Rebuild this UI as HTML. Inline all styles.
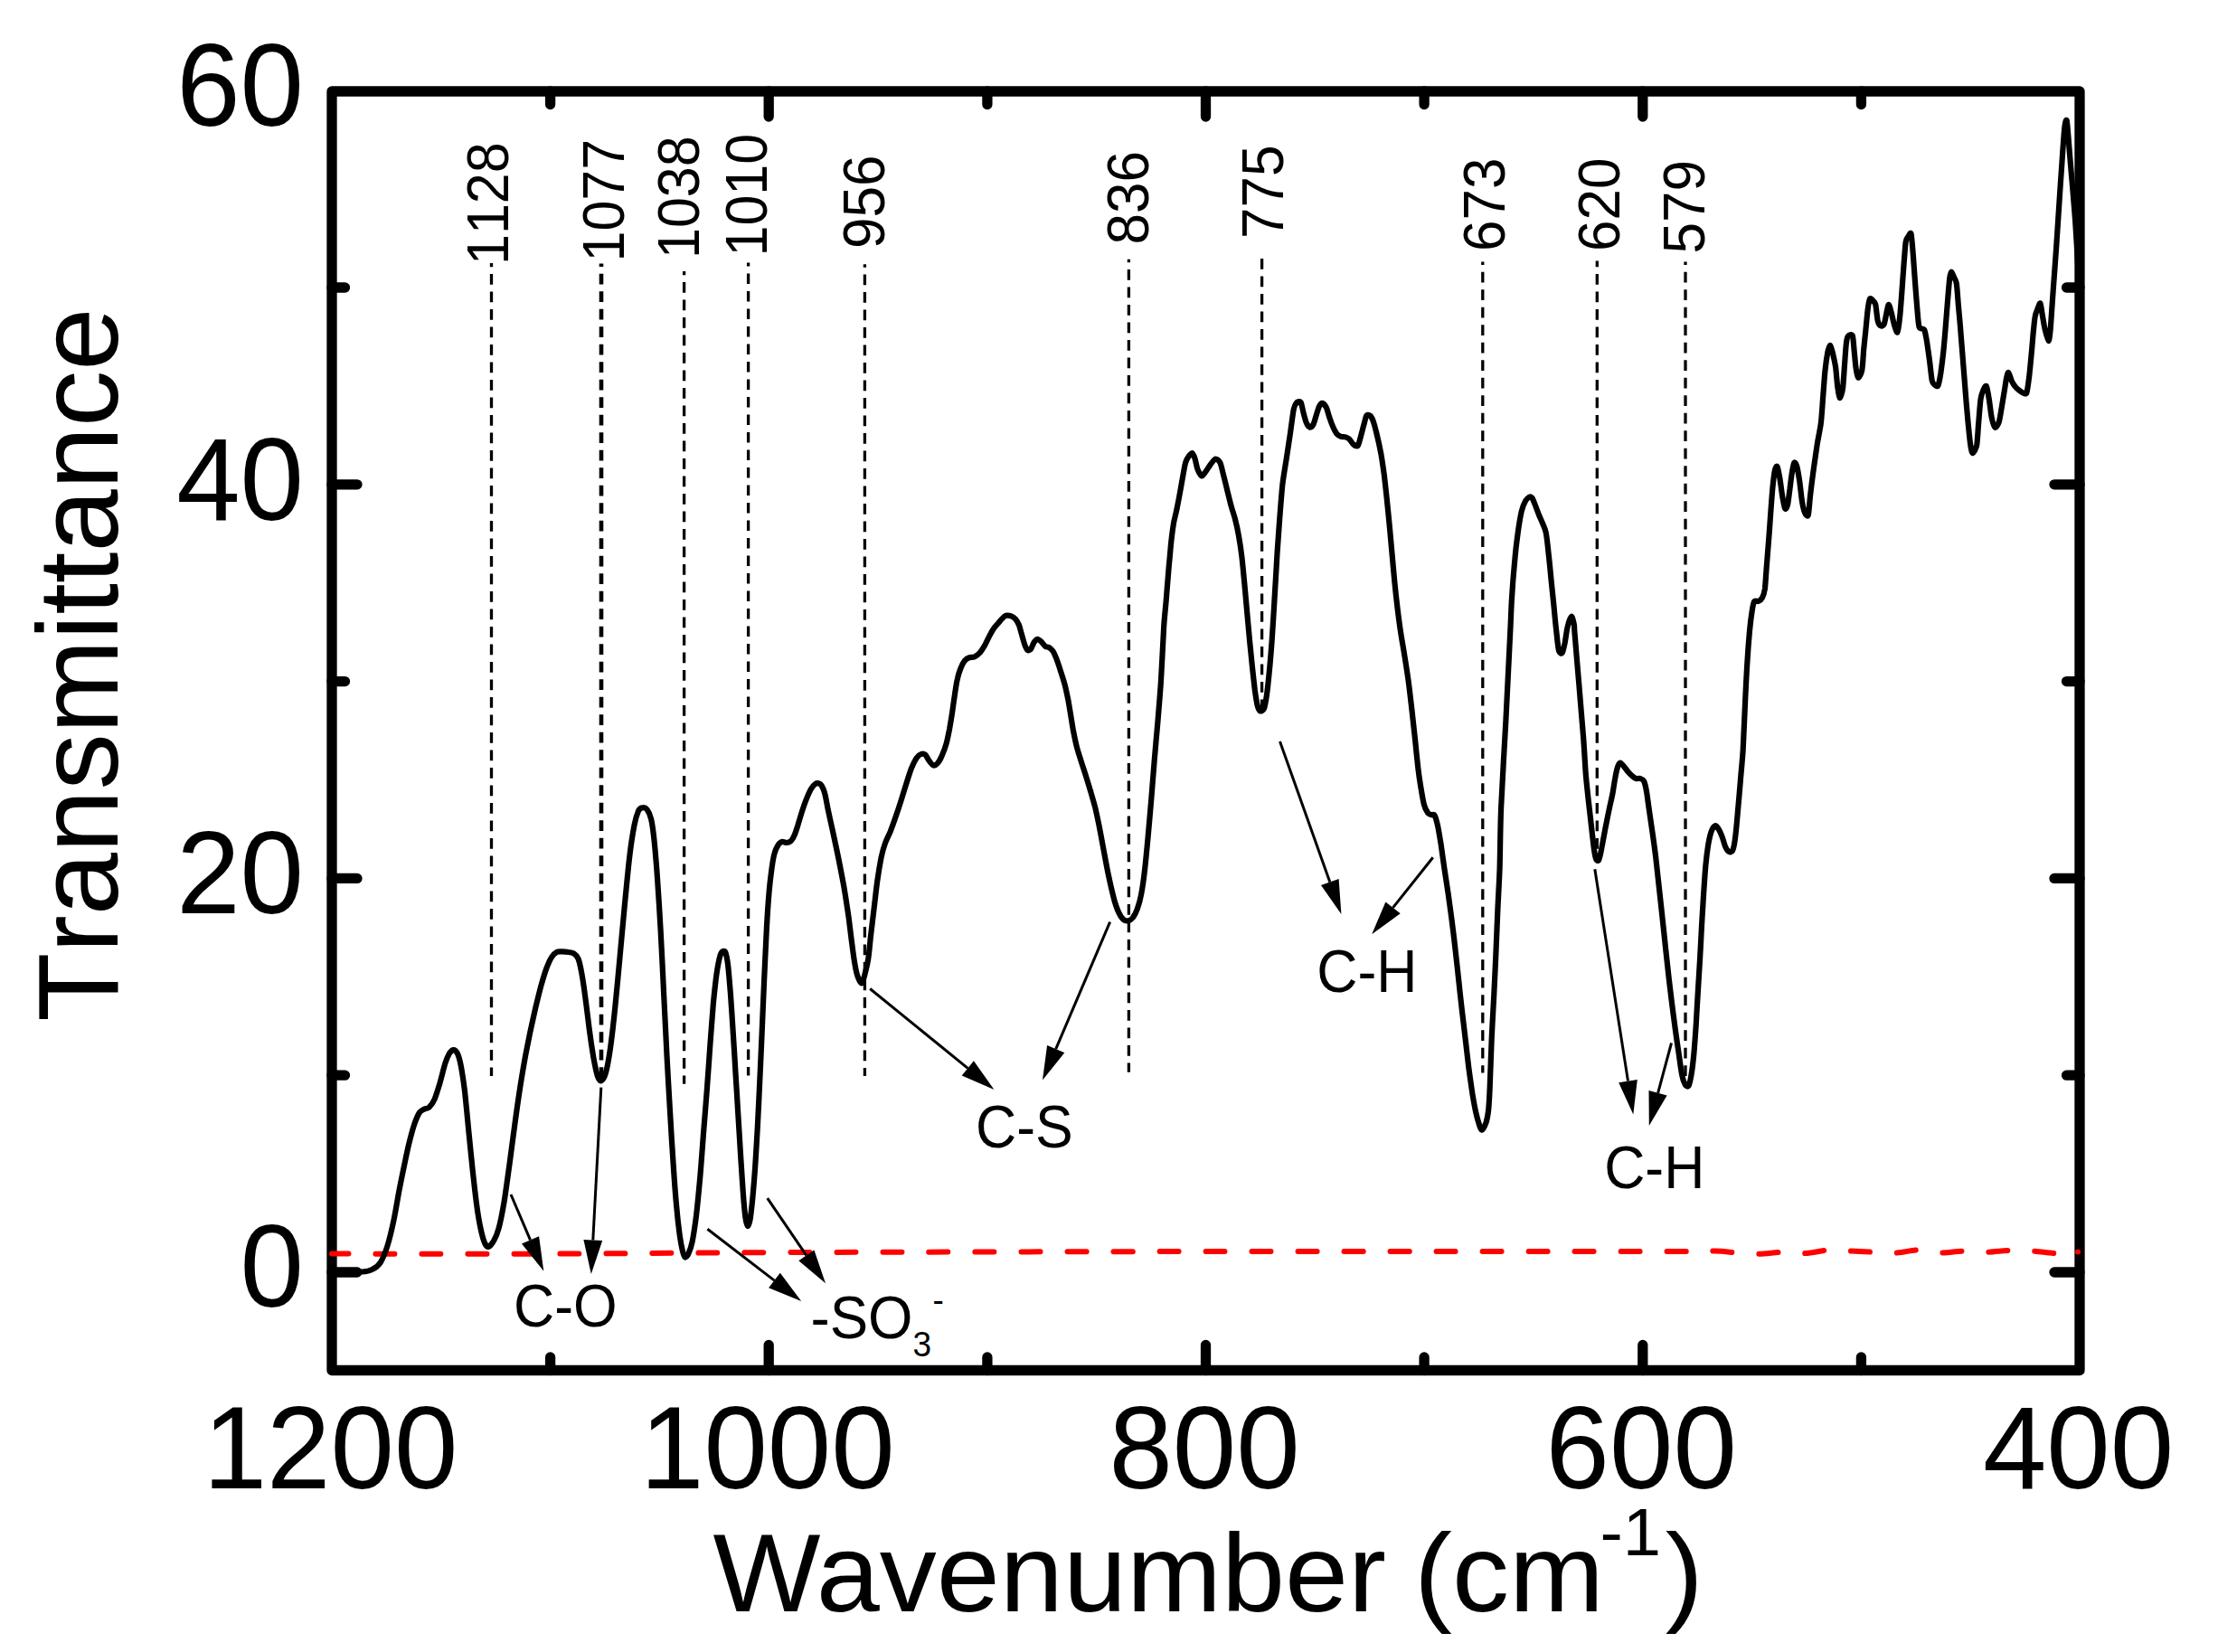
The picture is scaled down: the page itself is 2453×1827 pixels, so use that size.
<!DOCTYPE html>
<html><head><meta charset="utf-8"><title>FTIR spectrum</title>
<style>html,body{margin:0;padding:0;background:#fff}svg{display:block}text{font-family:"Liberation Sans",sans-serif;fill:#000;font-kerning:none}</style>
</head><body>
<svg width="2453" height="1827" viewBox="0 0 2453 1827">
<rect width="2453" height="1827" fill="#fff"/>
<rect x="367" y="101" width="1933" height="1414.5" fill="none" stroke="#000" stroke-width="11.3" stroke-linejoin="round"/>
<path d="M608.6 1515.5v-14.5M608.6 101.0v14.5M850.2 1515.5v-28.0M850.2 101.0v28.0M1091.9 1515.5v-14.5M1091.9 101.0v14.5M1333.5 1515.5v-28.0M1333.5 101.0v28.0M1575.1 1515.5v-14.5M1575.1 101.0v14.5M1816.8 1515.5v-28.0M1816.8 101.0v28.0M2058.4 1515.5v-14.5M2058.4 101.0v14.5M367.0 1407.0h28.0M2300.0 1407.0h-28.0M367.0 1189.2h14.5M2300.0 1189.2h-14.5M367.0 971.4h28.0M2300.0 971.4h-28.0M367.0 753.6h14.5M2300.0 753.6h-14.5M367.0 535.8h28.0M2300.0 535.8h-28.0M367.0 318.0h14.5M2300.0 318.0h-14.5" stroke="#000" stroke-width="11.3" stroke-linecap="round" fill="none"/>
<path d="M543.5 290.9V1189.9" stroke="#000" stroke-width="3.3" stroke-dasharray="11.7 7.8" stroke-dashoffset="7.4" fill="none"/>
<path d="M665.0 291.5V1197.0" stroke="#000" stroke-width="4.6" stroke-dasharray="11.7 7.8" stroke-dashoffset="8.2" fill="none"/>
<path d="M756.6 300.0V1198.8" stroke="#000" stroke-width="3.3" stroke-dasharray="11.7 7.8" stroke-dashoffset="7.4" fill="none"/>
<path d="M827.6 290.6V1189.5" stroke="#000" stroke-width="3.3" stroke-dasharray="11.7 7.8" stroke-dashoffset="7.7" fill="none"/>
<path d="M956.4 292.2V1189.9" stroke="#000" stroke-width="3.3" stroke-dasharray="11.7 7.8" stroke-dashoffset="8.2" fill="none"/>
<path d="M1248.4 286.8V1185.8" stroke="#000" stroke-width="3.3" stroke-dasharray="11.7 7.8" stroke-dashoffset="8.2" fill="none"/>
<path d="M1395.6 286.0V787.0" stroke="#000" stroke-width="3.3" stroke-dasharray="11.7 7.8" stroke-dashoffset="0.0" fill="none"/>
<path d="M1639.8 289.5V1186.4" stroke="#000" stroke-width="3.3" stroke-dasharray="11.7 7.8" stroke-dashoffset="8.2" fill="none"/>
<path d="M1766.3 288.5V947.0" stroke="#000" stroke-width="3.3" stroke-dasharray="11.7 7.8" stroke-dashoffset="5.0" fill="none"/>
<path d="M1864.0 289.5V1190.0" stroke="#000" stroke-width="3.3" stroke-dasharray="11.7 7.8" stroke-dashoffset="8.2" fill="none"/>
<path d="M367.0 1386.6C405.8 1386.6 511.2 1386.9 600.0 1386.6C688.8 1386.3 776.7 1385.4 900.0 1385.0C1023.3 1384.6 1206.7 1384.2 1340.0 1384.0C1473.3 1383.8 1615.0 1384.0 1700.0 1384.0C1785.0 1384.0 1817.3 1384.1 1850.0 1384.0C1882.7 1383.9 1884.1 1383.3 1896.0 1383.6C1907.9 1383.8 1913.3 1385.0 1921.6 1385.5C1929.8 1386.0 1937.0 1386.9 1945.5 1386.8C1954.0 1386.7 1964.1 1384.9 1972.6 1384.8C1981.1 1384.7 1988.0 1386.5 1996.5 1386.1C2005.0 1385.7 2015.3 1382.7 2023.7 1382.3C2032.1 1381.9 2038.8 1383.2 2047.0 1383.6C2055.2 1384.0 2064.5 1384.5 2073.0 1384.8C2081.5 1385.1 2089.8 1385.9 2098.0 1385.5C2106.2 1385.1 2114.4 1382.3 2122.5 1382.3C2130.6 1382.3 2138.2 1385.3 2146.5 1385.5C2154.8 1385.7 2163.5 1383.7 2172.0 1383.6C2180.5 1383.5 2189.0 1384.9 2197.5 1384.8C2206.0 1384.7 2214.5 1383.1 2223.0 1382.9C2231.5 1382.7 2240.0 1383.1 2248.5 1383.6C2257.0 1384.1 2265.8 1385.9 2274.0 1386.1C2282.2 1386.2 2294.0 1384.8 2298.0 1384.5" stroke="#f00" stroke-width="6" stroke-linecap="round" stroke-dasharray="21 30" stroke-dashoffset="2.5" fill="none"/>
<circle cx="2298" cy="1384.5" r="3" fill="#f00"/>
<path d="M365.8 1406.5C370.5 1406.5 394.5 1406.9 400.7 1406.5C406.9 1406.2 409.6 1405.1 412.3 1403.6C415.0 1402.2 418.9 1399.2 421.0 1395.8C423.1 1392.4 426.3 1384.6 428.3 1378.4C430.2 1372.2 433.8 1357.4 435.5 1349.3C437.3 1341.2 439.8 1325.5 441.3 1317.4C442.9 1309.2 445.6 1295.7 447.2 1288.3C448.7 1280.9 451.4 1268.3 453.0 1262.1C454.5 1256.0 457.3 1246.1 458.8 1241.8C460.3 1237.6 462.7 1232.2 464.0 1230.2C465.4 1228.2 467.5 1227.5 468.9 1226.7C470.4 1225.9 473.2 1225.9 474.8 1224.4C476.3 1222.9 479.0 1219.2 480.6 1215.7C482.1 1212.2 484.8 1203.5 486.4 1198.2C487.9 1193.0 490.8 1180.9 492.2 1176.4C493.6 1172.0 495.9 1166.9 497.1 1164.8C498.4 1162.8 500.3 1161.0 501.5 1161.0C502.6 1161.0 504.8 1162.6 505.8 1164.8C506.9 1167.1 508.5 1172.3 509.6 1177.9C510.7 1183.5 512.8 1197.3 514.0 1206.9C515.1 1216.6 517.2 1238.9 518.3 1250.5C519.5 1262.1 521.5 1283.3 522.7 1294.1C523.9 1305.0 525.9 1323.4 527.1 1331.9C528.2 1340.4 530.2 1352.4 531.4 1358.0C532.6 1363.6 534.6 1371.2 535.8 1374.0C536.9 1376.8 538.8 1379.1 540.1 1378.9C541.5 1378.7 544.4 1375.3 545.9 1372.6C547.5 1369.8 550.2 1363.8 551.7 1358.0C553.3 1352.2 556.0 1338.3 557.6 1329.0C559.1 1319.7 561.8 1299.5 563.4 1288.3C564.9 1277.1 567.6 1256.0 569.2 1244.7C570.7 1233.5 573.4 1214.1 575.0 1204.0C576.5 1194.0 579.3 1177.7 580.8 1169.2C582.4 1160.7 585.1 1147.5 586.6 1140.1C588.2 1132.8 590.9 1120.6 592.4 1114.0C594.0 1107.4 596.7 1096.4 598.2 1090.7C599.8 1085.1 602.5 1076.1 604.0 1071.9C605.6 1067.6 608.3 1061.3 609.9 1058.8C611.4 1056.3 614.1 1053.8 615.7 1053.0C617.2 1052.1 619.7 1052.4 621.5 1052.4C623.2 1052.4 627.0 1052.7 628.7 1053.0C630.5 1053.2 633.1 1053.5 634.5 1054.4C636.0 1055.4 638.3 1057.3 639.5 1060.2C640.7 1063.1 642.2 1070.2 643.3 1076.2C644.4 1082.2 646.5 1096.7 647.6 1105.3C648.8 1113.8 650.8 1131.6 652.0 1140.1C653.1 1148.7 655.2 1162.6 656.3 1169.2C657.5 1175.8 659.6 1186.0 660.7 1189.5C661.8 1193.0 663.4 1195.8 664.6 1195.4C665.8 1195.1 668.5 1191.6 669.9 1186.7C671.3 1181.7 673.7 1168.4 675.1 1158.6C676.5 1148.7 679.0 1126.5 680.4 1112.9C681.8 1099.3 684.3 1071.7 685.7 1056.7C687.1 1041.7 689.5 1015.0 690.9 1000.5C692.3 986.0 694.8 959.5 696.2 947.8C697.6 936.1 700.2 919.5 701.5 912.7C702.8 905.9 704.9 899.5 706.0 896.9C707.2 894.3 709.0 893.6 710.2 893.4C711.5 893.1 714.2 893.5 715.5 895.1C716.8 896.8 719.0 901.0 720.1 905.7C721.2 910.3 722.7 921.4 723.6 930.2C724.5 939.1 726.2 959.3 727.1 972.4C728.0 985.5 729.7 1011.7 730.6 1028.6C731.6 1045.5 733.2 1080.1 734.1 1098.8C735.1 1117.6 736.7 1151.3 737.6 1169.1C738.6 1186.9 740.2 1216.4 741.2 1232.3C742.1 1248.2 743.7 1274.9 744.7 1288.5C745.6 1302.1 747.2 1323.9 748.2 1334.2C749.1 1344.5 750.8 1359.2 751.7 1365.8C752.6 1372.4 754.1 1380.1 754.9 1383.4C755.7 1386.6 756.8 1389.9 757.7 1390.4C758.5 1390.9 760.1 1389.2 761.2 1386.9C762.3 1384.5 764.6 1378.4 765.7 1372.8C766.9 1367.2 768.8 1354.1 770.0 1344.7C771.1 1335.4 773.1 1314.7 774.2 1302.6C775.3 1290.4 777.0 1266.5 778.0 1253.4C779.1 1240.3 780.9 1217.3 781.9 1204.2C782.9 1191.1 784.5 1167.7 785.4 1155.0C786.4 1142.4 788.0 1119.7 788.9 1109.4C789.9 1099.1 791.5 1084.6 792.4 1077.8C793.4 1071.0 795.1 1061.8 796.0 1058.5C796.8 1055.1 797.9 1053.2 798.8 1052.5C799.6 1051.8 801.4 1051.2 802.3 1053.2C803.1 1055.2 804.3 1061.1 805.1 1067.2C805.8 1073.3 807.1 1089.0 807.9 1098.8C808.6 1108.7 810.0 1129.3 810.7 1141.0C811.5 1152.7 812.8 1174.5 813.5 1186.7C814.3 1198.8 815.6 1220.1 816.3 1232.3C817.1 1244.5 818.4 1266.3 819.1 1278.0C819.9 1289.7 821.2 1311.0 821.9 1320.1C822.6 1329.3 823.7 1341.7 824.4 1346.5C825.1 1351.3 826.2 1355.7 826.9 1356.0C827.6 1356.2 828.9 1352.5 829.7 1348.2C830.4 1343.9 831.7 1331.6 832.5 1323.6C833.2 1315.7 834.6 1298.8 835.3 1288.5C836.0 1278.2 837.1 1258.5 837.8 1246.4C838.4 1234.2 839.6 1211.2 840.2 1197.2C840.9 1183.1 842.0 1156.0 842.7 1141.0C843.3 1126.0 844.5 1099.3 845.1 1084.8C845.8 1070.3 846.9 1044.3 847.6 1032.1C848.2 1019.9 849.3 1002.4 850.0 993.5C850.7 984.6 852.0 971.9 852.9 965.4C853.7 958.8 855.3 948.4 856.4 944.3C857.4 940.2 859.5 936.2 860.6 934.5C861.7 932.7 863.5 931.3 864.8 931.0C866.1 930.6 868.8 932.1 870.1 932.0C871.4 931.9 873.5 931.4 874.6 930.2C875.8 929.1 877.8 925.6 878.8 923.2C879.9 920.9 881.3 916.0 882.4 912.7C883.4 909.4 885.4 902.4 886.6 898.6C887.8 894.9 890.1 888.1 891.5 884.6C892.9 881.1 895.8 874.6 897.1 872.3C898.5 870.0 900.6 867.8 901.7 867.0C902.8 866.2 904.3 866.1 905.2 866.3C906.1 866.6 907.8 867.3 908.7 868.8C909.6 870.3 911.3 874.0 912.2 877.6C913.2 881.1 914.7 890.0 915.7 895.1C916.8 900.3 919.0 910.3 920.3 916.2C921.6 922.1 923.9 932.9 925.2 939.0C926.5 945.1 928.6 955.5 929.8 961.9C931.0 968.2 933.2 979.4 934.3 986.4C935.5 993.5 937.5 1007.1 938.6 1014.5C939.6 1022.0 941.1 1035.6 942.1 1042.6C943.0 1049.7 944.6 1062.1 945.6 1067.2C946.5 1072.4 948.0 1078.7 949.1 1081.3C950.2 1083.9 952.2 1089.1 953.7 1086.6C955.1 1084.0 958.8 1068.7 960.0 1061.9C961.2 1055.2 962.1 1043.2 962.9 1035.8C963.8 1028.4 965.4 1014.9 966.4 1006.7C967.4 998.6 969.1 982.5 970.2 974.8C971.3 967.0 973.4 954.3 974.5 948.6C975.7 943.0 977.5 936.5 978.9 932.7C980.2 928.8 983.1 923.5 984.7 919.6C986.2 915.7 989.0 908.1 990.5 903.6C992.1 899.1 994.8 891.0 996.3 886.2C997.9 881.3 1000.6 872.1 1002.1 867.3C1003.7 862.4 1006.4 853.7 1007.9 849.9C1009.5 846.0 1012.3 840.4 1013.7 838.2C1015.2 836.1 1017.7 834.3 1019.0 833.9C1020.3 833.4 1022.2 833.8 1023.3 834.7C1024.5 835.7 1026.2 839.6 1027.4 841.1C1028.6 842.7 1030.8 846.0 1032.1 846.4C1033.3 846.8 1035.7 845.5 1037.0 844.0C1038.3 842.6 1040.7 838.2 1041.9 835.3C1043.2 832.4 1045.5 826.1 1046.6 822.3C1047.7 818.4 1049.2 810.7 1050.1 806.3C1050.9 801.8 1052.2 793.9 1053.0 788.8C1053.7 783.8 1055.1 773.5 1055.9 768.5C1056.6 763.5 1057.9 754.9 1058.8 751.1C1059.6 747.2 1061.2 742.2 1062.3 739.5C1063.4 736.7 1065.6 732.4 1066.9 730.7C1068.2 729.1 1070.4 727.8 1071.9 727.3C1073.3 726.7 1076.1 727.1 1077.7 726.4C1079.2 725.7 1081.9 723.8 1083.5 722.0C1085.0 720.3 1087.7 716.0 1089.3 713.3C1090.8 710.6 1093.7 704.2 1095.1 701.7C1096.5 699.2 1098.3 696.0 1099.5 694.4C1100.6 692.8 1102.6 690.8 1103.8 689.5C1105.0 688.1 1107.0 685.4 1108.2 684.3C1109.3 683.1 1111.2 681.2 1112.5 680.8C1113.9 680.4 1116.9 680.8 1118.3 681.3C1119.8 681.9 1122.1 683.5 1123.3 684.8C1124.4 686.2 1126.2 689.3 1127.1 691.5C1127.9 693.8 1129.1 698.8 1130.0 701.7C1130.8 704.6 1132.6 711.0 1133.4 713.3C1134.3 715.6 1135.8 718.5 1136.6 719.1C1137.5 719.7 1139.2 718.8 1140.1 717.7C1141.1 716.5 1142.6 711.8 1143.6 710.4C1144.6 709.0 1146.3 707.0 1147.4 706.9C1148.5 706.8 1150.6 708.8 1151.7 709.8C1152.9 710.9 1154.9 713.9 1156.1 714.8C1157.3 715.6 1159.3 715.4 1160.5 716.2C1161.6 717.0 1163.7 718.6 1164.8 720.6C1166.0 722.5 1168.0 727.6 1169.2 730.7C1170.3 733.8 1172.4 740.1 1173.5 743.8C1174.7 747.5 1176.9 754.3 1177.9 758.3C1178.9 762.4 1180.5 769.9 1181.4 774.3C1182.2 778.8 1183.5 787.1 1184.3 791.7C1185.1 796.4 1186.3 804.5 1187.2 809.2C1188.1 813.8 1189.8 822.2 1191.0 826.6C1192.1 831.1 1194.6 838.3 1195.9 842.6C1197.3 846.9 1199.7 854.1 1201.1 858.6C1202.5 863.0 1205.0 871.4 1206.4 876.0C1207.7 880.7 1210.1 888.4 1211.3 893.4C1212.5 898.5 1214.5 908.0 1215.7 913.8C1216.8 919.6 1218.9 930.8 1220.0 937.0C1221.2 943.2 1223.2 954.4 1224.4 960.3C1225.5 966.1 1227.6 975.6 1228.7 980.6C1229.9 985.6 1231.9 994.2 1233.1 998.0C1234.3 1001.9 1236.2 1007.1 1237.5 1009.6C1238.7 1012.2 1241.0 1015.7 1242.4 1016.9C1243.7 1018.1 1246.2 1018.6 1247.6 1018.4C1249.0 1018.1 1251.5 1016.6 1252.9 1014.9C1254.2 1013.1 1256.6 1008.7 1257.8 1005.3C1259.0 1001.9 1261.1 994.9 1262.1 989.3C1263.2 983.7 1265.0 971.3 1265.9 963.2C1266.9 955.0 1268.4 938.8 1269.4 928.3C1270.4 917.8 1272.2 896.3 1273.2 884.7C1274.2 873.1 1275.7 852.8 1276.7 841.1C1277.6 829.5 1279.5 809.2 1280.5 797.6C1281.4 785.9 1283.0 768.0 1283.9 754.0C1284.8 740.0 1286.5 704.3 1287.2 692.4C1288.0 680.6 1289.0 672.5 1289.6 665.2C1290.2 657.9 1291.2 644.6 1291.8 637.9C1292.3 631.3 1293.2 621.1 1293.8 615.2C1294.3 609.4 1295.2 599.3 1295.8 594.4C1296.4 589.4 1297.4 582.1 1298.1 578.0C1298.9 573.9 1300.5 567.8 1301.4 563.5C1302.3 559.1 1304.0 550.2 1304.9 545.3C1305.8 540.5 1307.3 531.5 1308.1 527.2C1308.9 522.8 1310.1 515.4 1310.9 512.6C1311.6 509.8 1312.6 507.8 1313.6 506.3C1314.6 504.7 1317.4 501.0 1318.5 501.2C1319.6 501.3 1320.8 505.1 1321.6 507.5C1322.4 509.9 1323.5 516.6 1324.5 519.1C1325.5 521.6 1327.9 526.2 1329.1 526.4C1330.4 526.6 1332.8 522.3 1334.1 520.6C1335.4 518.8 1337.7 515.0 1339.0 513.3C1340.4 511.6 1342.9 507.7 1344.3 507.5C1345.6 507.3 1348.3 509.5 1349.5 511.9C1350.6 514.2 1351.9 520.9 1353.0 524.9C1354.0 529.0 1356.2 537.7 1357.3 542.4C1358.5 547.0 1360.5 555.5 1361.7 559.8C1362.8 564.1 1365.0 570.1 1366.0 574.3C1367.1 578.6 1368.9 586.3 1369.8 591.7C1370.8 597.2 1372.5 608.0 1373.3 615.0C1374.2 622.0 1375.4 635.9 1376.2 644.0C1377.0 652.2 1378.3 667.5 1379.1 676.0C1379.9 684.5 1381.2 699.8 1382.0 708.0C1382.8 716.1 1384.2 729.7 1384.9 737.0C1385.7 744.4 1387.1 757.4 1387.8 763.2C1388.6 769.0 1390.0 777.5 1390.7 780.6C1391.5 783.7 1392.7 786.0 1393.6 786.4C1394.6 786.8 1397.0 785.8 1398.0 783.5C1399.0 781.2 1400.1 774.4 1400.9 769.0C1401.7 763.5 1403.0 751.0 1403.8 742.8C1404.6 734.7 1405.9 718.8 1406.7 708.0C1407.5 697.1 1408.8 674.3 1409.6 661.5C1410.4 648.7 1411.8 624.1 1412.5 612.1C1413.3 600.1 1414.7 581.5 1415.4 571.4C1416.2 561.3 1417.4 545.1 1418.3 536.5C1419.3 528.0 1421.5 515.2 1422.7 507.5C1423.9 499.7 1426.0 485.8 1427.1 478.4C1428.1 471.1 1429.9 456.7 1430.8 452.3C1431.8 447.8 1433.3 446.0 1434.3 445.0C1435.4 444.1 1437.7 443.5 1438.7 445.0C1439.6 446.6 1440.7 453.6 1441.6 456.7C1442.4 459.8 1444.1 466.1 1445.1 468.3C1446.0 470.4 1447.9 472.4 1448.8 472.6C1449.8 472.8 1451.5 471.3 1452.3 469.7C1453.2 468.2 1454.3 463.7 1455.2 461.0C1456.1 458.3 1458.0 451.4 1459.0 449.4C1460.0 447.4 1461.5 445.7 1462.5 445.9C1463.5 446.1 1465.8 448.6 1466.9 450.8C1467.9 453.1 1469.6 459.6 1470.6 462.5C1471.6 465.4 1473.4 470.3 1474.4 472.6C1475.5 475.0 1477.3 478.5 1478.5 479.9C1479.6 481.3 1481.8 482.3 1483.1 482.8C1484.4 483.3 1486.8 483.0 1488.1 483.4C1489.3 483.8 1491.3 484.6 1492.4 485.7C1493.6 486.8 1495.5 490.5 1496.8 491.5C1498.0 492.5 1500.6 494.1 1501.7 493.0C1502.8 491.8 1504.0 485.9 1504.9 482.8C1505.8 479.7 1507.5 472.8 1508.4 469.7C1509.3 466.6 1510.4 460.9 1511.3 459.6C1512.2 458.2 1514.1 458.8 1515.1 459.6C1516.1 460.3 1517.5 462.5 1518.6 465.4C1519.6 468.3 1521.8 476.5 1522.9 481.3C1524.1 486.2 1526.2 495.9 1527.3 501.7C1528.3 507.5 1529.9 518.3 1530.8 524.9C1531.6 531.5 1532.9 543.7 1533.7 551.1C1534.5 558.4 1535.8 572.0 1536.6 580.1C1537.4 588.3 1538.7 603.6 1539.5 612.1C1540.3 620.6 1541.6 635.9 1542.4 644.0C1543.2 652.2 1544.7 665.7 1545.6 673.1C1546.5 680.5 1548.0 692.3 1549.1 699.2C1550.1 706.2 1552.3 718.0 1553.4 725.4C1554.6 732.8 1556.7 746.3 1557.8 754.4C1558.9 762.6 1560.6 777.9 1561.6 786.4C1562.5 794.9 1564.2 810.0 1565.1 818.4C1565.9 826.8 1567.5 842.5 1568.3 849.4C1569.1 856.2 1570.3 864.3 1571.2 869.7C1572.1 875.2 1573.9 886.2 1575.0 890.1C1576.0 893.9 1578.0 897.3 1579.0 898.8C1580.1 900.3 1581.8 900.7 1582.8 901.1C1583.8 901.5 1585.6 900.1 1586.6 901.7C1587.5 903.3 1589.1 909.0 1590.1 913.3C1591.0 917.6 1592.6 927.4 1593.6 933.6C1594.5 939.8 1596.2 952.4 1597.3 959.8C1598.4 967.2 1600.5 980.7 1601.7 988.8C1602.8 997.0 1605.0 1012.3 1606.0 1020.8C1607.1 1029.3 1608.9 1044.2 1609.8 1052.8C1610.8 1061.3 1612.4 1076.2 1613.3 1084.7C1614.2 1093.2 1615.8 1108.2 1616.8 1116.7C1617.8 1125.2 1619.6 1140.1 1620.6 1148.6C1621.6 1157.2 1623.3 1172.5 1624.3 1180.6C1625.4 1188.7 1627.4 1203.1 1628.4 1209.6C1629.5 1216.2 1631.2 1225.5 1632.2 1230.0C1633.2 1234.4 1634.8 1240.4 1635.7 1243.1C1636.6 1245.7 1637.8 1250.0 1638.9 1249.7C1639.9 1249.5 1642.7 1243.9 1643.7 1241.0C1644.6 1238.0 1645.6 1232.6 1646.2 1227.4C1646.7 1222.2 1647.3 1212.0 1647.7 1202.2C1648.2 1192.4 1648.9 1166.7 1649.5 1153.8C1650.0 1140.8 1651.3 1118.2 1652.0 1105.3C1652.6 1092.4 1653.8 1069.8 1654.3 1056.9C1654.9 1044.0 1655.7 1021.4 1656.3 1008.4C1656.8 995.5 1658.1 975.3 1658.6 960.0C1659.1 944.7 1659.2 915.5 1660.1 893.8C1661.0 872.0 1664.0 822.7 1665.4 796.9C1666.7 771.0 1669.3 718.1 1670.2 700.0C1671.1 681.9 1671.3 671.6 1672.0 661.5C1672.6 651.3 1674.0 633.0 1674.9 623.7C1675.7 614.4 1677.3 599.5 1678.4 591.7C1679.4 584.0 1681.6 570.6 1682.7 565.6C1683.9 560.6 1685.9 556.1 1687.1 554.0C1688.2 551.8 1690.5 550.1 1691.4 549.6C1692.4 549.2 1693.6 549.5 1694.3 550.5C1695.1 551.5 1696.3 554.5 1697.2 556.9C1698.2 559.3 1700.4 565.6 1701.6 568.5C1702.8 571.4 1704.9 576.0 1706.0 578.7C1707.0 581.4 1708.8 584.4 1709.7 588.8C1710.6 593.3 1711.9 605.1 1712.6 612.1C1713.4 619.1 1714.8 633.4 1715.5 641.1C1716.3 648.9 1717.7 662.4 1718.5 670.2C1719.2 677.9 1720.6 692.7 1721.4 699.2C1722.1 705.8 1723.1 716.6 1724.0 719.6C1724.8 722.6 1726.9 723.1 1727.8 721.9C1728.6 720.7 1729.9 714.7 1730.7 710.9C1731.4 707.1 1732.6 697.3 1733.6 693.4C1734.5 689.6 1737.0 682.2 1737.9 681.8C1738.9 681.4 1740.3 688.1 1740.8 690.5C1741.3 693.0 1740.8 691.0 1741.5 700.0C1742.2 709.0 1745.1 742.6 1746.4 758.1C1747.6 773.6 1750.2 803.3 1751.2 816.3C1752.2 829.2 1753.0 846.0 1753.7 855.0C1754.4 864.1 1755.8 876.3 1756.6 884.1C1757.5 891.8 1759.1 905.9 1759.9 913.1C1760.7 920.4 1762.2 933.5 1762.8 938.3C1763.5 943.1 1764.2 947.2 1764.8 949.0C1765.3 950.8 1766.2 951.8 1766.7 951.9C1767.2 952.0 1768.1 951.7 1768.7 949.6C1769.4 947.6 1770.8 941.0 1771.6 936.5C1772.5 932.1 1774.4 921.6 1775.4 916.2C1776.5 910.8 1778.4 900.9 1779.5 895.9C1780.5 890.8 1782.4 883.1 1783.3 878.4C1784.2 873.8 1785.4 865.1 1786.2 861.0C1786.9 856.9 1788.3 850.3 1789.1 847.9C1789.9 845.6 1791.0 843.6 1792.0 843.6C1792.9 843.6 1795.2 846.6 1796.3 847.9C1797.5 849.3 1799.5 852.4 1800.7 853.7C1801.9 855.1 1803.9 857.1 1805.1 858.1C1806.2 859.1 1808.3 860.6 1809.4 861.0C1810.6 861.4 1812.6 860.6 1813.8 861.0C1814.9 861.4 1817.2 862.0 1818.1 863.9C1819.1 865.9 1820.3 871.3 1821.0 875.5C1821.8 879.8 1823.0 889.7 1823.9 895.9C1824.8 902.1 1826.7 915.0 1827.7 922.0C1828.7 929.0 1830.3 940.4 1831.2 948.2C1832.1 955.9 1833.7 971.2 1834.7 980.1C1835.7 989.0 1837.5 1005.7 1838.5 1015.0C1839.5 1024.3 1841.3 1040.9 1842.2 1049.9C1843.2 1058.8 1844.8 1073.7 1845.7 1081.8C1846.7 1089.9 1848.2 1103.1 1849.2 1110.9C1850.2 1118.6 1852.0 1132.6 1853.0 1139.9C1854.0 1147.3 1855.8 1159.5 1856.8 1166.1C1857.7 1172.7 1859.3 1184.9 1860.3 1189.3C1861.2 1193.8 1862.8 1197.9 1863.7 1199.5C1864.7 1201.0 1866.6 1202.3 1867.5 1200.9C1868.4 1199.6 1869.6 1194.0 1870.4 1189.3C1871.2 1184.7 1872.6 1173.4 1873.3 1166.1C1874.0 1158.7 1875.1 1143.0 1875.7 1134.1C1876.2 1125.2 1877.1 1108.9 1877.7 1099.2C1878.3 1089.6 1879.4 1071.5 1880.0 1061.5C1880.6 1051.4 1881.5 1033.4 1882.0 1023.7C1882.6 1014.0 1883.5 997.8 1884.1 988.8C1884.7 979.9 1885.7 964.2 1886.4 956.9C1887.1 949.5 1888.5 938.7 1889.3 933.6C1890.2 928.6 1891.8 921.8 1892.8 919.1C1893.8 916.4 1895.6 913.7 1896.6 913.3C1897.6 912.9 1899.3 914.7 1900.3 916.2C1901.4 917.8 1903.4 922.2 1904.4 924.9C1905.5 927.6 1907.2 934.3 1908.2 936.5C1909.2 938.8 1910.9 941.2 1912.0 941.8C1913.0 942.4 1915.1 942.8 1916.0 940.9C1917.0 939.0 1918.2 933.4 1918.9 927.8C1919.7 922.2 1921.1 907.3 1921.8 898.8C1922.6 890.3 1924.0 873.2 1924.8 863.9C1925.5 854.6 1927.0 840.8 1927.7 829.1C1928.4 817.3 1929.4 788.9 1930.1 776.0C1930.7 763.1 1931.7 742.9 1932.4 732.4C1933.0 722.0 1934.3 705.3 1935.0 697.6C1935.7 689.8 1937.2 678.7 1937.9 674.3C1938.6 670.0 1939.3 666.3 1940.2 665.0C1941.1 663.8 1943.4 665.5 1944.6 665.0C1945.8 664.5 1948.0 663.1 1948.9 661.2C1949.9 659.4 1951.2 655.9 1951.9 651.1C1952.5 646.2 1953.3 632.3 1953.9 624.9C1954.5 617.6 1955.6 604.0 1956.2 595.9C1956.8 587.7 1958.0 571.7 1958.5 563.9C1959.1 556.2 1960.0 543.6 1960.6 537.8C1961.2 532.0 1962.2 523.2 1962.9 520.3C1963.6 517.4 1964.8 514.8 1965.5 516.0C1966.2 517.1 1967.6 524.6 1968.4 529.1C1969.2 533.5 1970.5 544.9 1971.3 549.4C1972.1 553.8 1973.4 561.3 1974.2 562.5C1975.0 563.6 1976.4 561.0 1977.1 558.1C1977.8 555.2 1978.8 545.3 1979.5 540.7C1980.1 536.0 1981.1 527.1 1981.8 523.2C1982.4 519.4 1983.7 512.6 1984.4 511.6C1985.1 510.7 1986.5 513.3 1987.3 516.0C1988.1 518.7 1989.4 526.7 1990.2 532.0C1991.0 537.2 1992.3 550.6 1993.1 555.2C1993.9 559.8 1995.1 564.9 1996.0 566.8C1996.9 568.8 1999.0 572.5 1999.8 569.7C2000.6 567.0 2001.4 553.2 2002.3 546.1C2003.1 539.1 2005.0 524.4 2006.0 517.1C2007.1 509.7 2008.8 497.5 2009.8 490.9C2010.9 484.3 2013.0 474.7 2013.9 467.7C2014.7 460.7 2015.6 446.4 2016.2 438.6C2016.8 430.9 2017.8 416.2 2018.5 409.6C2019.2 403.0 2020.7 392.9 2021.4 389.2C2022.2 385.6 2023.6 381.6 2024.3 382.0C2025.1 382.4 2026.5 388.9 2027.3 392.1C2028.0 395.4 2029.5 402.0 2030.2 406.7C2030.8 411.3 2031.6 422.6 2032.2 427.0C2032.8 431.5 2033.7 439.7 2034.5 440.1C2035.3 440.5 2037.3 434.8 2038.0 429.9C2038.7 425.1 2039.5 410.4 2040.0 403.8C2040.5 397.2 2041.3 384.8 2041.8 380.5C2042.3 376.3 2042.9 373.1 2043.8 371.8C2044.7 370.6 2047.9 369.3 2048.8 371.2C2049.6 373.2 2050.0 381.6 2050.5 386.3C2051.0 391.1 2051.9 402.5 2052.5 406.7C2053.1 410.9 2054.0 417.3 2054.9 417.7C2055.7 418.1 2058.4 413.8 2059.2 409.6C2060.1 405.4 2060.7 392.1 2061.2 386.3C2061.8 380.5 2062.7 371.8 2063.3 366.0C2063.9 360.2 2065.0 347.5 2065.6 342.8C2066.2 338.0 2067.2 331.9 2067.9 330.6C2068.7 329.2 2070.6 331.7 2071.4 332.6C2072.3 333.4 2073.6 334.0 2074.3 336.9C2075.0 339.9 2075.9 351.3 2076.6 354.4C2077.3 357.5 2078.6 359.6 2079.5 360.2C2080.5 360.8 2082.7 360.7 2083.6 358.7C2084.5 356.8 2085.8 348.6 2086.5 345.7C2087.2 342.8 2088.1 336.9 2088.8 336.9C2089.5 336.9 2090.9 342.6 2091.7 345.7C2092.6 348.8 2094.3 357.3 2095.2 360.2C2096.1 363.1 2097.7 368.6 2098.4 367.5C2099.2 366.3 2100.4 357.5 2101.0 351.5C2101.7 345.5 2102.8 330.6 2103.4 322.4C2104.0 314.3 2105.1 297.8 2105.7 290.5C2106.3 283.1 2107.1 271.1 2107.7 267.2C2108.4 263.3 2109.9 262.6 2110.6 261.4C2111.4 260.2 2112.9 256.2 2113.5 258.5C2114.2 260.8 2115.0 271.9 2115.6 278.8C2116.2 285.8 2117.3 302.7 2117.9 310.8C2118.5 318.9 2119.6 333.1 2120.2 339.9C2120.8 346.6 2121.5 358.4 2122.5 361.6C2123.6 364.9 2126.9 362.4 2128.1 364.5C2129.2 366.7 2130.2 373.2 2131.0 377.6C2131.7 382.1 2133.1 392.1 2133.9 398.0C2134.7 403.8 2136.0 417.5 2136.8 421.2C2137.6 424.9 2138.8 424.9 2139.7 425.6C2140.6 426.3 2142.6 428.2 2143.5 426.4C2144.4 424.7 2145.6 417.4 2146.4 412.5C2147.1 407.5 2148.6 395.8 2149.3 389.2C2150.0 382.7 2151.0 370.5 2151.6 363.1C2152.2 355.7 2153.3 341.4 2153.9 334.0C2154.5 326.7 2155.7 312.4 2156.2 307.9C2156.8 303.4 2157.4 300.8 2158.0 300.6C2158.6 300.4 2160.1 304.7 2160.9 306.4C2161.7 308.2 2163.1 309.6 2163.8 313.7C2164.5 317.8 2165.3 330.8 2165.8 336.9C2166.4 343.1 2167.3 353.2 2167.9 360.2C2168.4 367.2 2169.6 381.5 2170.2 389.2C2170.8 397.0 2171.9 410.6 2172.5 418.3C2173.1 426.0 2174.2 440.0 2174.8 447.4C2175.5 454.7 2176.5 467.3 2177.2 473.5C2177.8 479.7 2178.9 490.2 2179.5 493.8C2180.1 497.5 2180.9 501.3 2181.8 501.1C2182.7 500.9 2185.3 496.8 2186.2 492.4C2187.0 487.9 2187.6 474.5 2188.2 467.7C2188.8 460.9 2189.8 446.4 2190.5 441.5C2191.2 436.7 2192.6 433.3 2193.4 431.4C2194.3 429.4 2196.1 425.7 2196.9 427.0C2197.8 428.4 2199.1 436.9 2199.8 441.5C2200.6 446.2 2201.8 457.7 2202.7 461.9C2203.6 466.1 2205.4 472.3 2206.5 472.9C2207.6 473.5 2209.9 469.3 2210.9 466.2C2211.8 463.2 2213.0 454.7 2213.8 450.3C2214.5 445.8 2216.0 437.1 2216.7 432.8C2217.4 428.6 2218.4 421.1 2219.0 418.3C2219.6 415.5 2220.6 411.5 2221.3 411.9C2222.1 412.3 2223.9 419.2 2224.8 421.2C2225.7 423.2 2227.3 425.7 2228.3 427.0C2229.3 428.4 2231.5 430.4 2232.7 431.4C2233.8 432.3 2235.9 433.9 2237.0 434.3C2238.2 434.7 2240.4 436.8 2241.4 434.3C2242.3 431.8 2243.6 421.0 2244.3 415.4C2245.0 409.8 2246.0 398.3 2246.6 392.1C2247.2 386.0 2248.1 374.5 2248.6 368.9C2249.2 363.3 2250.0 353.7 2250.7 350.0C2251.3 346.3 2252.8 343.2 2253.6 341.3C2254.3 339.4 2255.8 334.5 2256.5 335.5C2257.2 336.5 2258.1 344.7 2258.8 348.6C2259.5 352.4 2260.8 360.8 2261.7 364.5C2262.6 368.3 2264.7 376.8 2265.5 377.0C2266.3 377.2 2267.0 371.3 2267.5 366.0C2268.1 360.7 2269.0 345.1 2269.6 336.9C2270.1 328.8 2271.3 313.5 2271.9 305.0C2272.5 296.5 2273.6 281.9 2274.2 273.0C2274.8 264.1 2275.9 247.5 2276.5 238.2C2277.1 228.9 2278.2 212.6 2278.8 203.3C2279.5 194.0 2280.6 177.0 2281.2 168.4C2281.8 159.9 2282.9 144.0 2283.5 139.4C2284.1 134.7 2285.2 131.1 2285.8 133.6C2286.4 136.1 2287.4 150.9 2288.0 158.0C2288.6 165.1 2289.7 179.4 2290.4 187.2C2291.1 195.0 2292.3 208.6 2292.9 216.3C2293.5 224.0 2294.5 235.0 2295.2 245.3C2295.9 255.6 2297.5 282.5 2298.1 293.8C2298.7 305.1 2299.7 325.2 2300.0 330.0" stroke="#000" stroke-width="6.2" stroke-linejoin="round" stroke-linecap="round" fill="none"/>
<path d="M565.0 1321.0L586.5 1371.3" stroke="#000" stroke-width="3" fill="none"/>
<path d="M601.3 1405.8L577.0 1375.4L596.1 1367.2Z" fill="#000"/>
<path d="M664.8 1202.6L655.8 1371.5" stroke="#000" stroke-width="3" fill="none"/>
<path d="M653.8 1408.9L645.4 1370.9L666.2 1372.0Z" fill="#000"/>
<path d="M782.4 1359.3L856.4 1416.1" stroke="#000" stroke-width="3" fill="none"/>
<path d="M886.2 1438.9L850.1 1424.3L862.8 1407.8Z" fill="#000"/>
<path d="M848.7 1325.2L891.8 1388.3" stroke="#000" stroke-width="3" fill="none"/>
<path d="M913.0 1419.3L883.3 1394.2L900.4 1382.5Z" fill="#000"/>
<path d="M962.2 1093.5L1070.3 1181.3" stroke="#000" stroke-width="3" fill="none"/>
<path d="M1099.4 1205.0L1063.7 1189.4L1076.9 1173.3Z" fill="#000"/>
<path d="M1227.6 1019.6L1167.7 1160.1" stroke="#000" stroke-width="3" fill="none"/>
<path d="M1153.0 1194.6L1158.1 1156.0L1177.3 1164.2Z" fill="#000"/>
<path d="M1415.5 820.0L1470.8 975.6" stroke="#000" stroke-width="3" fill="none"/>
<path d="M1483.4 1010.9L1461.0 979.1L1480.6 972.1Z" fill="#000"/>
<path d="M1584.8 948.2L1540.5 1003.9" stroke="#000" stroke-width="3" fill="none"/>
<path d="M1517.2 1033.2L1532.4 997.4L1548.7 1010.3Z" fill="#000"/>
<path d="M1763.8 961.2L1800.5 1195.6" stroke="#000" stroke-width="3" fill="none"/>
<path d="M1806.3 1232.6L1790.2 1197.2L1810.8 1193.9Z" fill="#000"/>
<path d="M1848.5 1153.5L1833.6 1208.8" stroke="#000" stroke-width="3" fill="none"/>
<path d="M1823.8 1245.0L1823.5 1206.1L1843.6 1211.5Z" fill="#000"/>
<text transform="translate(336,1444.8) scale(1,1.02)" font-size="126.6" text-anchor="end">0</text>
<text transform="translate(336,1010.2) scale(1,1.02)" font-size="126.6" text-anchor="end">20</text>
<text transform="translate(336,574.6) scale(1,1.02)" font-size="126.6" text-anchor="end">40</text>
<text transform="translate(336,139.0) scale(1,1.02)" font-size="126.6" text-anchor="end">60</text>
<text transform="translate(365.5,1645.7) scale(1,1.02)" font-size="126.6" text-anchor="middle">1200</text>
<text transform="translate(848.8,1645.7) scale(1,1.02)" font-size="126.6" text-anchor="middle">1000</text>
<text transform="translate(1332.0,1645.7) scale(1,1.02)" font-size="126.6" text-anchor="middle">800</text>
<text transform="translate(1815.2,1645.7) scale(1,1.02)" font-size="126.6" text-anchor="middle">600</text>
<text transform="translate(2298.5,1645.7) scale(1,1.02)" font-size="126.6" text-anchor="middle">400</text>
<text transform="translate(0,1781.6) scale(1,0.975)" font-size="126" style="font-kerning:normal"><tspan x="788.5">Wavenumber</tspan> <tspan x="1564.1">(cm</tspan><tspan font-size="76" x="1769.5" dy="-63.5">-1</tspan><tspan dy="63.5" x="1841.8">)</tspan></text>
<text transform="translate(130,1129.8) rotate(-90) scale(1,1.01)" font-size="124.6">Transmittance</text>
<text transform="translate(562.0,293.0) rotate(-90) scale(1,1.06)" font-size="61">1128</text>
<text transform="translate(690.0,289.5) rotate(-90) scale(1,1.06)" font-size="61">1077</text>
<text transform="translate(772.5,286.0) rotate(-90) scale(1,1.06)" font-size="61">1038</text>
<text transform="translate(848.2,283.5) rotate(-90) scale(1,1.06)" font-size="61">1010</text>
<text transform="translate(978.1,275.0) rotate(-90) scale(1,1.06)" font-size="62">956</text>
<text transform="translate(1269.7,270.5) rotate(-90) scale(1,1.06)" font-size="62">836</text>
<text transform="translate(1419.2,264.0) rotate(-90) scale(1,1.06)" font-size="62">775</text>
<text transform="translate(1664.4,278.0) rotate(-90) scale(1,1.06)" font-size="62">673</text>
<text transform="translate(1791.2,278.0) rotate(-90) scale(1,1.06)" font-size="62">620</text>
<text transform="translate(1884.6,280.5) rotate(-90) scale(1,1.06)" font-size="62">579</text>
<text transform="translate(568.0,1467.3) scale(1,1.06)" font-size="62.5">C-O</text>
<text transform="translate(896.5,1479.8) scale(1,1.06)" font-size="63.6">-SO<tspan font-size="37" dy="19.5">3</tspan><tspan font-size="37" dy="-47" dx="1.5">-</tspan></text>
<text transform="translate(1079.0,1268.8) scale(1,1.06)" font-size="62.5">C-S</text>
<text transform="translate(1456.3,1097.2) scale(1,1.06)" font-size="62.5">C-H</text>
<text transform="translate(1774.2,1314.3) scale(1,1.06)" font-size="62.5">C-H</text>
</svg>
</body></html>
